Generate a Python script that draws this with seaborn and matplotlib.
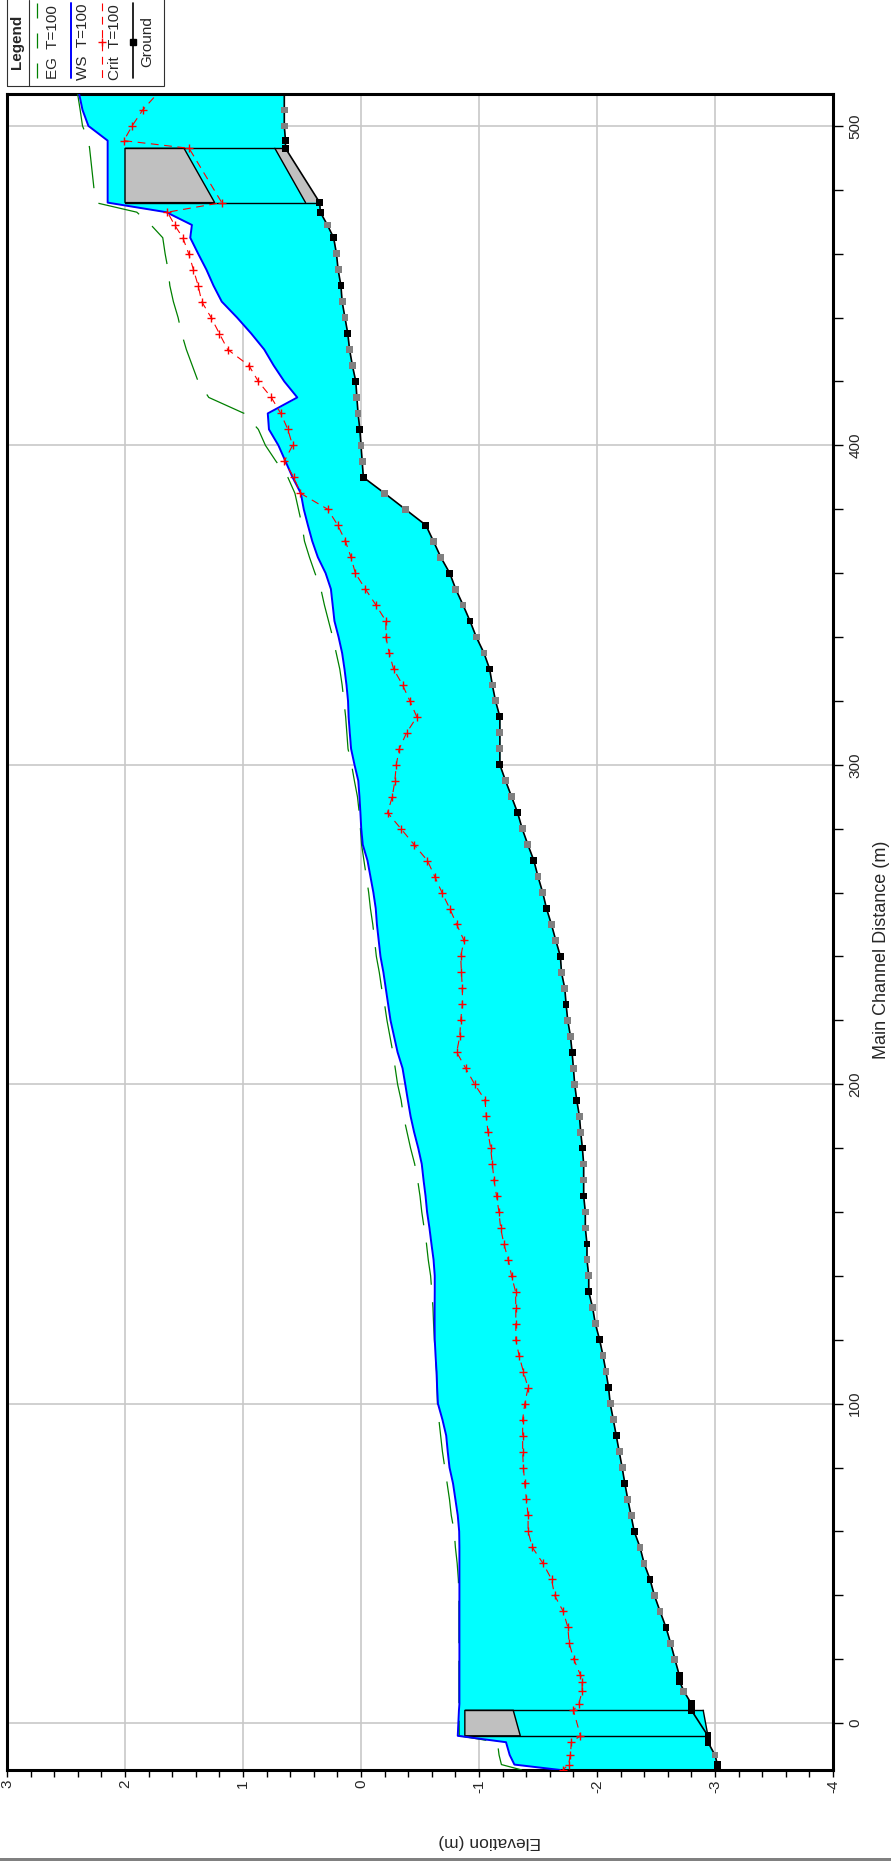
import matplotlib
matplotlib.use('Agg')
import matplotlib.pyplot as plt
from matplotlib.ticker import MultipleLocator
from matplotlib.lines import Line2D
from matplotlib.patches import Rectangle
import numpy as np
import pandas as pd
import seaborn as sns

# main channel distance (m), upstream -> downstream
station = [512, 505, 500, 495.4, 493, 476, 473, 469, 465, 460,
           455, 450, 445, 440, 435, 430, 425, 420, 415, 410,
           405, 400, 395, 390, 385, 380, 375, 370, 365, 360,
           355, 350, 345, 340, 335, 330, 325, 320, 315, 310,
           305, 300, 295, 290, 285, 280, 275, 270, 265, 260,
           255, 250, 245, 240, 235, 230, 225, 220, 215, 210,
           205, 200, 195, 190, 185, 180, 175, 170, 165, 160,
           155, 150, 145, 140, 135, 130, 125, 120, 115, 110,
           105, 100, 95, 90, 85, 80, 75, 70, 65, 60,
           55, 50, 45, 40, 35, 30, 25, 20, 15, 13,
           10, 6, 4, -4, -6, -10, -13, -14.7]

ground = [0.65, 0.65, 0.65, 0.64, 0.64, 0.35, 0.345, 0.285, 0.232, 0.208,
          0.194, 0.17, 0.16, 0.136, 0.112, 0.097, 0.073, 0.044, 0.035, 0.025,
          0.01, 0.0, -0.01, -0.02, -0.20, -0.375, -0.55, -0.614, -0.676, -0.752,
          -0.803, -0.865, -0.924, -0.977, -1.042, -1.09, -1.113, -1.14, -1.177, -1.177,
          -1.177, -1.177, -1.225, -1.276, -1.327, -1.366, -1.414, -1.465, -1.50, -1.54,
          -1.572, -1.614, -1.651, -1.69, -1.699, -1.727, -1.738, -1.752, -1.775, -1.789,
          -1.80, -1.811, -1.828, -1.851, -1.862, -1.876, -1.887, -1.887, -1.887, -1.901,
          -1.901, -1.915, -1.915, -1.93, -1.93, -1.963, -1.986, -2.022, -2.051, -2.076,
          -2.098, -2.112, -2.138, -2.163, -2.188, -2.213, -2.236, -2.261, -2.289, -2.315,
          -2.365, -2.399, -2.449, -2.486, -2.534, -2.584, -2.624, -2.66, -2.697, -2.70,
          -2.736, -2.80, -2.80, -2.94, -2.94, -3.0, -3.02, -3.02]

ws = [2.40, 2.36, 2.31, 2.147, 2.147, 2.147, 1.65, 1.433, 1.447, 1.38,
      1.31, 1.25, 1.18, 1.05, 0.93, 0.82, 0.74, 0.65, 0.54, 0.79,
      0.78, 0.70, 0.64, 0.58, 0.51, 0.485, 0.45, 0.413, 0.366, 0.30,
      0.255, 0.24, 0.225, 0.19, 0.16, 0.14, 0.123, 0.11, 0.105, 0.095,
      0.084, 0.055, 0.023, 0.013, 0.005, -0.002, -0.015, -0.055, -0.08, -0.105,
      -0.125, -0.135, -0.15, -0.165, -0.19, -0.21, -0.23, -0.25, -0.28, -0.31,
      -0.352, -0.375, -0.397, -0.42, -0.45, -0.485, -0.515, -0.53, -0.547, -0.56,
      -0.58, -0.597, -0.615, -0.625, -0.625, -0.624, -0.624, -0.625, -0.632, -0.64,
      -0.645, -0.652, -0.69, -0.722, -0.735, -0.75, -0.78, -0.80, -0.82, -0.832,
      -0.834, -0.834, -0.834, -0.834, -0.834, -0.834, -0.834, -0.834, -0.834, -0.834,
      -0.834, -0.834, -0.83, -0.82, -1.229, -1.26, -1.30, -1.69]

eg = [2.41, 2.38, 2.36, 2.31, 2.30, 2.25, 1.90, 1.78, 1.68, 1.66,
      1.635, 1.62, 1.59, 1.55, 1.52, 1.48, 1.43, 1.38, 1.29, 0.99,
      0.87, 0.81, 0.72, 0.62, 0.56, 0.53, 0.50, 0.479, 0.437, 0.39,
      0.34, 0.31, 0.275, 0.24, 0.21, 0.18, 0.16, 0.145, 0.13, 0.12,
      0.11, 0.08, 0.056, 0.03, 0.015, 0.005, -0.005, -0.025, -0.045, -0.065,
      -0.08, -0.10, -0.115, -0.13, -0.155, -0.175, -0.20, -0.22, -0.245, -0.27,
      -0.29, -0.31, -0.34, -0.36, -0.39, -0.42, -0.455, -0.48, -0.50, -0.515,
      -0.535, -0.555, -0.57, -0.59, -0.60, -0.61, -0.615, -0.622, -0.63, -0.64,
      -0.645, -0.648, -0.66, -0.675, -0.69, -0.71, -0.73, -0.75, -0.765, -0.79,
      -0.80, -0.815, -0.825, -0.83, -0.83, -0.83, -0.83, -0.83, -0.83, -0.83,
      -0.83, -0.83, -0.83, -0.833, -1.156, -1.17, -1.19, -1.364]

crit = [1.68, 1.85, 1.94, 2.01, 1.457, 1.18, 1.64, 1.58, 1.51, 1.46,
        1.42, 1.38, 1.35, 1.27, 1.20, 1.13, 0.95, 0.87, 0.76, 0.68,
        0.62, 0.58, 0.65, 0.57, 0.513, 0.282, 0.197, 0.132, 0.085, 0.048,
        -0.037, -0.127, -0.211, -0.211, -0.239, -0.276, -0.352, -0.414, -0.473, -0.386,
        -0.324, -0.299, -0.287, -0.265, -0.225, -0.338, -0.45, -0.563, -0.625, -0.686,
        -0.752, -0.811, -0.873, -0.845, -0.851, -0.859, -0.859, -0.845, -0.837, -0.811,
        -0.887, -0.963, -1.051, -1.062, -1.076, -1.099, -1.113, -1.127, -1.149, -1.169,
        -1.183, -1.211, -1.248, -1.276, -1.31, -1.312, -1.312, -1.312, -1.34, -1.376,
        -1.416, -1.388, -1.37, -1.37, -1.37, -1.376, -1.388, -1.402, -1.416, -1.416,
        -1.452, -1.542, -1.615, -1.64, -1.713, -1.753, -1.764, -1.803, -1.86, -1.874,
        -1.874, -1.846, -1.80, -1.86, -1.783, -1.774, -1.759, -1.71]

# surveyed cross sections (black squares), the rest are interpolated (grey)
xs_stations = [495.4, 493, 476, 473, 465, 450, 435, 420, 405, 390, 375, 360,
               345, 330, 315, 300, 285, 270, 255, 240, 225, 210, 195, 180,
               165, 150, 135, 120, 105, 90, 75, 60, 45, 30, 15, 13, 6, 4,
               -4, -6, -13, -14.7]

# bridges: faces (us, ds), high chord, low chord, bridge ground line
br_up_faces = [493, 476]
br_up_high = [2.0, 2.0]
br_up_low = [1.50, 1.24]
br_up_bed = [0.73, 0.47]
br_dn_faces = [4, -4]
br_dn_high = [-0.88, -0.88]
br_dn_low = [-1.29, -1.35]
br_dn_bed = [-2.90, -2.94]

W, H = 891, 1861

sns.set_theme(style='white')
plt.rcParams['font.family'] = ['Liberation Sans', 'DejaVu Sans']
plt.rcParams['axes.unicode_minus'] = False

df = pd.DataFrame({'station': station, 'ground': ground, 'ws': ws,
                   'eg': eg, 'crit': crit})
df['kind'] = np.where(df['station'].isin(xs_stations), 'xs', 'interp')

fig = plt.figure(figsize=(W / 100, H / 100), dpi=100)
fig.patch.set_facecolor('white')
ax = fig.add_axes([7 / W, 1 - 1770 / H, (833 - 7) / W, (1770 - 94) / H])
ax.set_facecolor('white')

# water between ground and water surface
ax.fill_betweenx(df['station'], df['ws'], df['ground'], color='#00FFFF',
                 lw=0, zorder=1)

# bridges
def ground_at(d):
    return df.loc[df['station'] == d, 'ground'].iloc[0]

for faces, high, low, bed in [(br_up_faces, br_up_high, br_up_low, br_up_bed),
                              (br_dn_faces, br_dn_high, br_dn_low, br_dn_bed)]:
    g = [ground_at(faces[0]), ground_at(faces[1])]
    ax.fill([high[0], low[0], low[1], high[1]],
            [faces[0], faces[0], faces[1], faces[1]],
            facecolor='#C0C0C0', edgecolor='black', lw=1.0, zorder=2)
    blocked = bed[0] > g[0]
    ax.fill([bed[0], g[0], g[1], bed[1]],
            [faces[0], faces[0], faces[1], faces[1]],
            facecolor='#C0C0C0' if blocked else '#00FFFF',
            edgecolor='none', zorder=2)
    ax.plot(bed, faces, color='black', lw=1.0, zorder=3)
    for k in range(2):
        ax.plot([high[k], min(bed[k], g[k])], [faces[k], faces[k]],
                color='black', lw=1.0, zorder=3)

sns.lineplot(data=df, x='eg', y='station', orient='y', sort=False,
             estimator=None, color='#008000', lw=0.9,
             linestyle=(0, (34, 14)), ax=ax, zorder=4)
sns.lineplot(data=df, x='ws', y='station', orient='y', sort=False,
             estimator=None, color='#0000FF', lw=1.4, ax=ax, zorder=4)
sns.lineplot(data=df, x='crit', y='station', orient='y', sort=False,
             estimator=None, color='#FF0000', lw=0.8,
             linestyle=(0, (7, 5)), marker='+', markersize=6,
             markeredgecolor='#FF0000', markeredgewidth=1.0, ax=ax, zorder=4)
sns.lineplot(data=df, x='ground', y='station', orient='y', sort=False,
             estimator=None, color='black', lw=1.2, ax=ax, zorder=4)
sns.scatterplot(data=df, x='ground', y='station', hue='kind',
                palette={'xs': 'black', 'interp': '#808080'}, marker='s',
                s=24, linewidth=0, legend=False, ax=ax, zorder=5)

ax.set_xlim(3, -4)
ax.set_ylim(-14.7, 510)
ax.xaxis.set_major_locator(MultipleLocator(1))
ax.xaxis.set_minor_locator(MultipleLocator(0.2))
ax.yaxis.set_major_locator(MultipleLocator(100))
ax.yaxis.set_minor_locator(MultipleLocator(20))
ax.yaxis.tick_right()
ax.set_xlabel('')
ax.set_ylabel('')
ax.grid(True, which='major', color='#C8C8C8', lw=1.2)
ax.set_axisbelow(True)
ax.tick_params(axis='x', which='both', direction='out', bottom=True,
               top=False, length=5, width=1, color='black',
               labelrotation=90, labelsize=11, pad=2)
ax.tick_params(axis='y', which='both', direction='out', right=True,
               left=False, length=7, width=1, color='black',
               labelrotation=90, labelsize=11, pad=4)
for t in ax.yaxis.get_major_ticks():
    t.label2.set_va('center')
for sp in ax.spines.values():
    sp.set_color('black')
    sp.set_linewidth(2.2)

fig.text(882 / W, 1 - 950 / H, 'Main Channel Distance (m)', rotation=90,
         ha='center', va='center', fontsize=13)
fig.text(490 / W, 1 - 1841 / H, 'Elevation (m)', rotation=180,
         ha='center', va='center', fontsize=12.5)

# grey strip along the bottom edge
fig.add_artist(Rectangle((0, 0), 1, 3 / H, transform=fig.transFigure,
                         facecolor='#808080', edgecolor='none'))

# rotated legend, drawn in figure pixels
def fx(x):
    return x / W

def fy(y):
    return 1 - y / H

fig.add_artist(Rectangle((fx(7), fy(86)), 157 / W, 92 / H,
                         transform=fig.transFigure, fill=False,
                         edgecolor='#303030', lw=0.8))
fig.add_artist(Line2D([fx(29), fx(29)], [fy(0), fy(86)],
                      transform=fig.transFigure, color='#303030', lw=0.8))
fig.text(fx(17), fy(42), 'Legend', rotation=90, ha='center', va='center',
         fontsize=11, fontweight='bold')

legend_rows = [
    (37, 53, 'EG  T=100', dict(color='#008000', lw=0.9, ls=(0, (12, 12)))),
    (71, 83, 'WS  T=100', dict(color='#0000FF', lw=1.4)),
    (102, 115, 'Crit  T=100', dict(color='#FF0000', lw=0.8, ls=(0, (7, 5)))),
    (133, 147, 'Ground', dict(color='black', lw=1.2)),
]
for lx, tx, label, style in legend_rows:
    fig.add_artist(Line2D([fx(lx), fx(lx)], [fy(3), fy(78)],
                          transform=fig.transFigure, **style))
    fig.text(fx(tx), fy(42), label, rotation=90, ha='center', va='center',
             fontsize=11)
fig.add_artist(Line2D([fx(102)], [fy(42)], transform=fig.transFigure,
                      marker='+', markersize=6, markeredgecolor='#FF0000',
                      markeredgewidth=1.0, ls='none'))
fig.add_artist(Line2D([fx(133)], [fy(42)], transform=fig.transFigure,
                      marker='s', markersize=4.5, color='black', ls='none'))

fig.savefig('out.png', dpi=100, facecolor='white')
plt.close(fig)
